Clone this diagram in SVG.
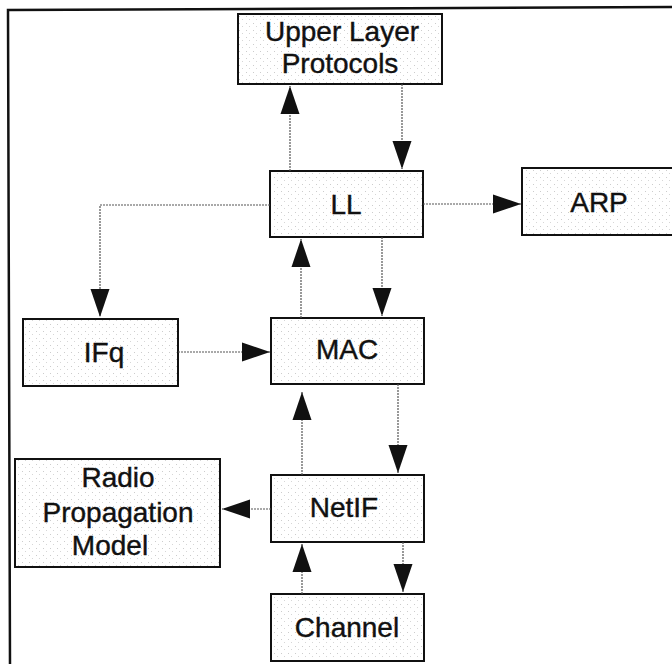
<svg xmlns="http://www.w3.org/2000/svg" width="672" height="664" viewBox="0 0 672 664">
  <defs>
    <!-- faint stipple used as the box fill -->
    <pattern id="stipple" width="7" height="7" patternUnits="userSpaceOnUse">
      <rect width="7" height="7" fill="#ffffff"/>
      <rect x="1" y="2" width="1" height="1" fill="#cccccc"/>
      <rect x="4" y="5" width="1" height="1" fill="#d6d6d6"/>
    </pattern>
    <marker id="arrow" markerUnits="userSpaceOnUse" markerWidth="28" markerHeight="20" viewBox="0 0 28 20" refX="28" refY="10" orient="auto">
      <path d="M0,0.5 L28,10 L0,19.5 Z" fill="#111111"/>
    </marker>
    <style>
      .box { fill: url(#stipple); stroke: #111111; stroke-width: 2; }
      .label { font-family: "Liberation Sans", Arial, sans-serif; font-size: 28px; fill: #111111; stroke: #111111; stroke-width: 0.4; text-anchor: middle; }
      .conn { fill: none; stroke: #555555; stroke-width: 1.2; stroke-dasharray: 2 1; marker-end: url(#arrow); }
    </style>
  </defs>

  <rect width="672" height="664" fill="#ffffff"/>

  <!-- outer frame (left and top edges) -->
  <polyline points="10,664 8,10 672,7" fill="none" stroke="#111111" stroke-width="2.5"/>

  <g id="upper-layer-protocols">
    <rect class="box" x="238" y="14" width="204" height="70"/>
    <text class="label" x="342" y="41">Upper Layer</text>
    <text class="label" x="340" y="73">Protocols</text>
  </g>

  <g id="ll">
    <rect class="box" x="270" y="171" width="153" height="66"/>
    <text class="label" x="346" y="214">LL</text>
  </g>

  <g id="arp">
    <rect class="box" x="522" y="168" width="156" height="67"/>
    <text class="label" x="599" y="212">ARP</text>
  </g>

  <g id="ifq">
    <rect class="box" x="23" y="319" width="155" height="67"/>
    <text class="label" x="104" y="362">IFq</text>
  </g>

  <g id="mac">
    <rect class="box" x="271" y="318" width="153" height="66"/>
    <text class="label" x="347" y="359">MAC</text>
  </g>

  <g id="radio-propagation-model">
    <rect class="box" x="15" y="459" width="205" height="108"/>
    <text class="label" x="118" y="487">Radio</text>
    <text class="label" x="118" y="522">Propagation</text>
    <text class="label" x="110" y="555">Model</text>
  </g>

  <g id="netif">
    <rect class="box" x="271" y="475" width="153" height="67"/>
    <text class="label" x="344" y="517">NetIF</text>
  </g>

  <g id="channel">
    <rect class="box" x="271" y="594" width="153" height="67"/>
    <text class="label" x="347" y="637">Channel</text>
  </g>

  <g id="connectors">
    <path class="conn" d="M290,171 V86"/>
    <path class="conn" d="M402,84 V169"/>
    <path class="conn" d="M423,204 H521"/>
    <path class="conn" d="M270,205 H100 V317"/>
    <path class="conn" d="M178,352 H270"/>
    <path class="conn" d="M301,318 V239"/>
    <path class="conn" d="M382,237 V316"/>
    <path class="conn" d="M398,384 V473"/>
    <path class="conn" d="M302,475 V392"/>
    <path class="conn" d="M271,509 H222"/>
    <path class="conn" d="M403,542 V592"/>
    <path class="conn" d="M302,594 V544"/>
  </g>
</svg>
